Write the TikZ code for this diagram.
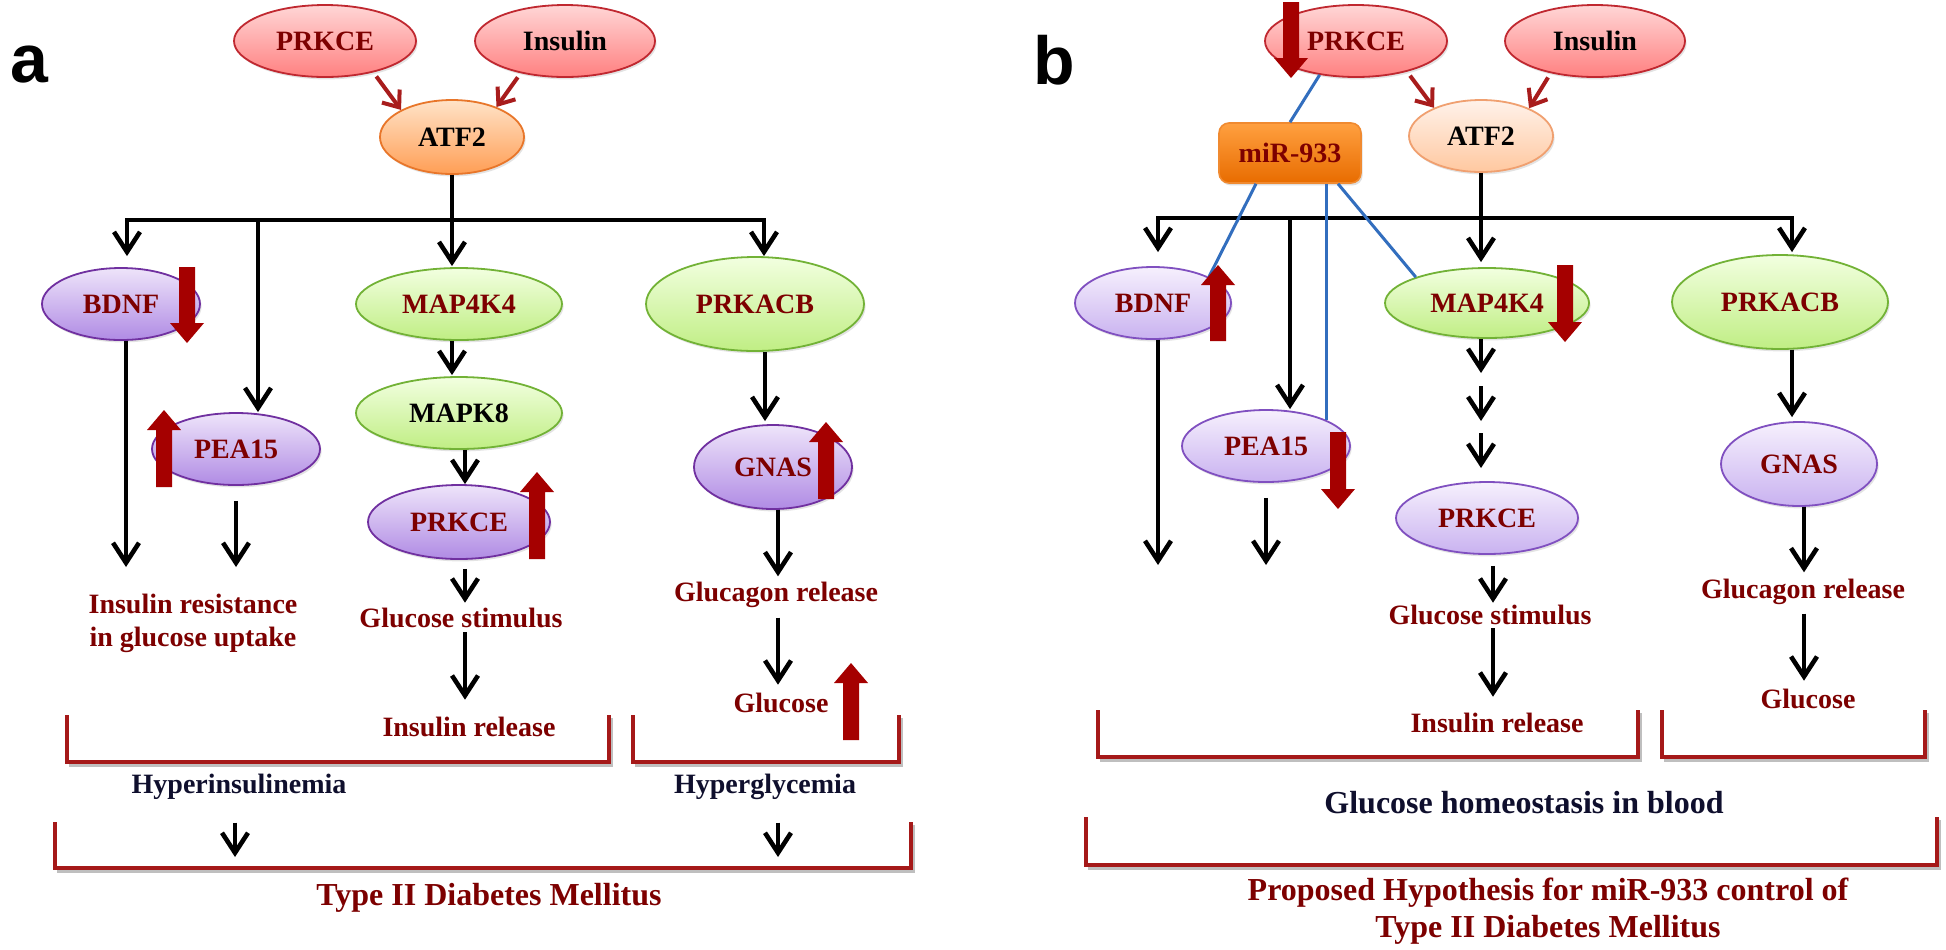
\documentclass[tikz,border=0pt]{standalone}
\usepackage{fontspec}
\setmainfont{Liberation Serif}
\newfontfamily\panelfont{Liberation Sans}
\usetikzlibrary{shapes.geometric,arrows.meta,shadows}
\definecolor{dred}{RGB}{125,0,0}
\definecolor{navy}{RGB}{15,15,45}
\definecolor{pinkTop}{HTML}{FFD6D6}
\definecolor{pinkBot}{HTML}{FF8080}
\definecolor{pinkLine}{HTML}{C02830}
\definecolor{orTop}{HTML}{FFE3C8}
\definecolor{orBot}{HTML}{FF9E55}
\definecolor{orLine}{HTML}{E8762A}
\definecolor{orLTop}{HTML}{FFF2EA}
\definecolor{orLBot}{HTML}{FFC8A0}
\definecolor{orLLine}{HTML}{F0A070}
\definecolor{puTop}{HTML}{EEE4FA}
\definecolor{puBot}{HTML}{B08BE4}
\definecolor{puLine}{HTML}{7030A0}
\definecolor{puLTop}{HTML}{F6F0FD}
\definecolor{puLBot}{HTML}{C9B2F0}
\definecolor{puLLine}{HTML}{8050C0}
\definecolor{grTop}{HTML}{F2FFE0}
\definecolor{grBot}{HTML}{C0EE84}
\definecolor{grLine}{HTML}{72B236}
\definecolor{mirTop}{HTML}{FFA040}
\definecolor{mirBot}{HTML}{E86C00}
\definecolor{mirLine}{HTML}{F08A30}
\definecolor{thinRed}{HTML}{A81C1C}
\definecolor{blkRed}{RGB}{165,0,0}
\definecolor{blueC}{RGB}{50,110,190}
\definecolor{brkC}{RGB}{165,25,25}
\newcommand\NFont{\fontsize{14}{16.5}\selectfont\bfseries}
\newcommand\TFont{\fontsize{16}{18.5}\selectfont\bfseries}
\newcommand\PFont{\fontsize{34}{36}\selectfont\panelfont\bfseries}
\newcommand\UpBlk[3]{\fill[blkRed] (#1,#2) -- (#1+17,#2+20) -- (#1+8,#2+20) -- (#1+8,#3) -- (#1-8,#3) -- (#1-8,#2+20) -- (#1-17,#2+20) -- cycle;}
\newcommand\DnBlk[3]{\fill[blkRed] (#1,#3) -- (#1+17,#3-20) -- (#1+8,#3-20) -- (#1+8,#2) -- (#1-8,#2) -- (#1-8,#3-20) -- (#1-17,#3-20) -- cycle;}
\newcommand\BrK[4]{\draw[brkshadow] (#1+2,#4+3) -- (#2+2,#4+3) -- (#2+2,#3+3); \draw[brk] (#1,#3) -- (#1,#4) -- (#2,#4) -- (#2,#3);}
\begin{document}
\begin{tikzpicture}[x=0.5pt,y=-0.5pt,
  sz/.style 2 args={minimum width=#1pt, minimum height=#2pt},
  ell/.style={ellipse, inner sep=0pt, font=\NFont, line width=0.9pt,
    drop shadow={shadow xshift=0.8pt, shadow yshift=-1.2pt, opacity=0.22}},
  pinkE/.style={ell, draw=pinkLine, top color=pinkTop, bottom color=pinkBot, text=dred},
  orE/.style={ell, draw=orLine, top color=orTop, bottom color=orBot, text=black},
  orLE/.style={ell, draw=orLLine, top color=orLTop, bottom color=orLBot, text=black},
  puE/.style={ell, draw=puLine, top color=puTop, bottom color=puBot, text=dred},
  puLE/.style={ell, draw=puLLine, top color=puLTop, bottom color=puLBot, text=dred},
  grE/.style={ell, draw=grLine, top color=grTop, bottom color=grBot, text=dred},
  mirbox/.style={rectangle, rounded corners=5pt, inner sep=0pt, font=\NFont, line width=0.8pt,
    draw=mirLine, top color=mirTop, bottom color=mirBot, text=dred,
    drop shadow={shadow xshift=0.8pt, shadow yshift=-1.2pt, opacity=0.25}},
  lab/.style={font=\NFont, text=dred, inner sep=1pt, align=center},
  nlab/.style={font=\NFont, text=navy, inner sep=1pt},
  ttl/.style={font=\TFont, text=dred, inner sep=1pt, align=center},
  blkl/.style={line width=2.3pt, black},
  blk/.style={blkl, -{Straight Barb[length=10pt,width=13pt]}},
  redthin/.style={line width=2pt, draw=thinRed, -{Straight Barb[length=7pt,width=11pt]}},
  bluel/.style={line width=1.5pt, draw=blueC},
  brk/.style={line width=2pt, draw=brkC},
  brkshadow/.style={line width=2pt, draw=black!25}
]
\path[use as bounding box, fill=white] (0,0) rectangle (1946,949);

% ---------------- panel a ----------------
\node[font=\PFont] (labA) at (29,65) {a};
\node[pinkE, sz={91}{36}] (prkceA) at (325,41) {PRKCE};
\node[pinkE, sz={90}{36}, text=black] (insA) at (565,41) {Insulin};
\node[orE, sz={72}{37}] (atf2A) at (452,137) {ATF2};
\node[puE, sz={79}{36}] (bdnfA) at (121,304) {BDNF};
\node[grE, sz={103}{36}] (map4k4A) at (459,304) {MAP4K4};
\node[grE, sz={109}{47}] (prkacbA) at (755,304) {PRKACB};
\node[puE, sz={84}{36}] (pea15A) at (236,449) {PEA15};
\node[grE, sz={103}{36}, text=black] (mapk8A) at (459,413) {MAPK8};
\node[puE, sz={91}{37}] (prkce2A) at (459,522) {PRKCE};
\node[puE, sz={79}{42}] (gnasA) at (773,467) {GNAS};

\node[lab] (irA) at (193,623) {Insulin resistance\\in glucose uptake};
\node[lab] (gsA) at (461,618) {Glucose stimulus};
\node[lab] (irelA) at (469,727) {Insulin release};
\node[lab] (grA) at (776,595) {Glucagon release};
\node[lab] (gluA) at (781,703) {Glucose};
\node[nlab] (hyperinsA) at (239,787) {Hyperinsulinemia};
\node[nlab] (hyperglyA) at (765,787) {Hyperglycemia};
\node[ttl] (t2dA) at (489,898) {Type II Diabetes Mellitus};

\draw[redthin, shorten <=2.5pt] (prkceA.-33) -- (atf2A.152);
\draw[redthin, shorten <=2.5pt] (insA.-144) -- (atf2A.34);

\coordinate (jA) at (452,220);
\draw[blkl] (atf2A.south) -- (jA);
\draw[blk, shorten >=5.5pt] (jA) -| ([xshift=3pt]bdnfA.north);
\draw[blk] (jA) -| ([xshift=4.5pt]prkacbA.north);
\draw[blk, shorten >=0.5pt] (jA) -- (jA |- map4k4A.north);
\draw[blk] ([xshift=11pt]pea15A.north |- jA) -- ([xshift=11pt]pea15A.north);

\coordinate (bdnfEndA) at (126,567);
\draw[blk] ([xshift=2.5pt]bdnfA.south) -- (bdnfEndA);
\coordinate (peaEndA) at (236,567);
\draw[blk, shorten <=7.5pt] (pea15A.south) -- (peaEndA);
\draw[blk, shorten >=0.5pt] (map4k4A.south -| jA) -- (mapk8A.north -| jA);
\draw[blk] ([xshift=3pt]mapk8A.south) -- ([xshift=3pt]prkce2A.north);
\draw[blk, shorten <=4.5pt, shorten >=1.5pt] ([xshift=3pt]prkce2A.south) -- ([xshift=3pt]prkce2A.south |- gsA.north);
\draw[blk, shorten <=1pt, shorten >=7.5pt] ([xshift=2pt]gsA.south) -- ([xshift=2pt]gsA.south |- irelA.north);
\draw[blk, shorten >=1.5pt] ([xshift=5pt]prkacbA.south) -- ([xshift=5pt]prkacbA.south |- gnasA.north);
\draw[blk, shorten >=1.75pt] ([xshift=2.5pt]gnasA.south) -- ([xshift=2.5pt]gnasA.south |- grA.north);
\draw[blk, shorten <=3.75pt, shorten >=3pt] ([xshift=1pt]grA.south) -- ([xshift=1pt]grA.south |- gluA.north);

\coordinate (hiEndA) at (235,857);
\draw[blk, shorten <=10.25pt] ([xshift=-2pt]hyperinsA.south) -- (hiEndA);
\coordinate (hgEndA) at (778,857);
\draw[blk, shorten <=10.25pt] ([xshift=6.5pt]hyperglyA.south) -- (hgEndA);

\BrK{67}{609}{715}{762}
\BrK{633}{899}{715}{762}
\BrK{55}{911}{822}{868}

\DnBlk{187}{267}{343}
\UpBlk{164}{410}{487}
\UpBlk{537}{472}{559}
\UpBlk{826}{422}{499}
\UpBlk{851}{663}{740}

% ---------------- panel b ----------------
\node[font=\PFont] (labB) at (1054,60) {b};
\node[pinkE, sz={91}{36}] (prkceB) at (1356,41) {PRKCE};
\node[pinkE, sz={90}{36}, text=black] (insB) at (1595,41) {Insulin};
\node[orLE, sz={72}{36}] (atf2B) at (1481,136) {ATF2};
\node[mirbox, sz={71}{30}] (mirB) at (1290,153) {miR-933};
\node[puLE, sz={78}{36}] (bdnfB) at (1153,303) {BDNF};
\node[grE, sz={102}{35}] (map4k4B) at (1487,303) {MAP4K4};
\node[grE, sz={108}{47}] (prkacbB) at (1780,302) {PRKACB};
\node[puLE, sz={84}{36}] (pea15B) at (1266,446) {PEA15};
\node[puLE, sz={91}{36}] (prkce2B) at (1487,518) {PRKCE};
\node[puLE, sz={78}{42}] (gnasB) at (1799,464) {GNAS};

\node[lab] (gsB) at (1490,615) {Glucose stimulus};
\node[lab] (irelB) at (1497,723) {Insulin release};
\node[lab] (grB) at (1803,592) {Glucagon release};
\node[lab] (gluB) at (1808,699) {Glucose};
\node[font=\TFont, text=navy, inner sep=1pt] (ghB) at (1524,803) {Glucose homeostasis in blood};
\node[ttl] (phB) at (1548,911) {Proposed Hypothesis for miR-933 control of\\Type II Diabetes Mellitus};

\draw[redthin, shorten <=2.5pt] (prkceB.-31) -- (atf2B.149);
\draw[redthin, shorten <=2.5pt] (insB.-144) -- (atf2B.30);

\coordinate (jB) at (1481,218);
\draw[blkl] (atf2B.south) -- (jB);
\draw[blk, shorten >=7pt] (jB) -| ([xshift=2.5pt]bdnfB.north);
\draw[blk, shorten >=1pt] (jB) -| ([xshift=6pt]prkacbB.north);
\draw[blk, shorten >=2.5pt] (jB) -- (jB |- map4k4B.north);
\draw[blk] ([xshift=12pt]pea15B.north |- jB) -- ([xshift=12pt]pea15B.north);

\coordinate (bdnfEndB) at (1158,565);
\draw[blk] ([xshift=2.5pt]bdnfB.south) -- (bdnfEndB);
\coordinate (peaEndB) at (1266,565);
\draw[blk, shorten <=7.5pt] (pea15B.south) -- (peaEndB);

\coordinate (mk1) at (1481,373);
\coordinate (mk2) at (1481,386);
\coordinate (mk3) at (1481,421);
\coordinate (mk4) at (1481,433);
\coordinate (mk5) at (1481,468);
\draw[blk] (map4k4B.south -| jB) -- (mk1);
\draw[blk] (mk2) -- (mk3);
\draw[blk] (mk4) -- (mk5);

\draw[blk, shorten <=5.5pt] ([xshift=3pt]prkce2B.south) -- ([xshift=3pt]prkce2B.south |- gsB.north);
\draw[blk, shorten <=0.5pt, shorten >=7pt] ([xshift=1.5pt]gsB.south) -- ([xshift=1.5pt]gsB.south |- irelB.north);
\draw[blk, shorten >=2pt] ([xshift=6pt]prkacbB.south) -- ([xshift=6pt]prkacbB.south |- gnasB.north);
\draw[blk, shorten >=2.25pt] ([xshift=2.5pt]gnasB.south) -- ([xshift=2.5pt]gnasB.south |- grB.north);
\draw[blk, shorten <=3.25pt, shorten >=3pt] ([xshift=0.5pt]grB.south) -- ([xshift=0.5pt]grB.south |- gluB.north);

\draw[bluel] (prkceB.-137) -- (mirB.north);
\draw[bluel] ([xshift=-17pt]mirB.south) -- (bdnfB.25);
\draw[bluel] ([xshift=18pt]mirB.south) -- ([xshift=18pt]mirB.south |- pea15B.23);
\draw[bluel] ([xshift=24pt]mirB.south) -- (map4k4B.160);

\BrK{1098}{1638}{710}{757}
\BrK{1662}{1925}{710}{757}
\BrK{1086}{1937}{817}{865}

\DnBlk{1291}{2}{78}
\UpBlk{1218}{265}{341}
\DnBlk{1565}{265}{342}
\DnBlk{1338}{432}{509}
\end{tikzpicture}
\end{document}
